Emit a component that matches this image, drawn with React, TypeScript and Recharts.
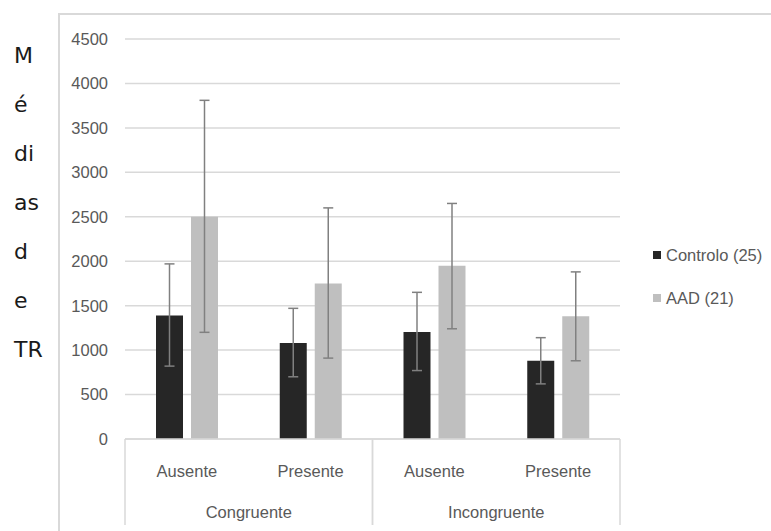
import React from 'react';
import {
  BarChart,
  Bar,
  XAxis,
  YAxis,
  CartesianGrid,
  Legend,
  ErrorBar,
} from 'recharts';

// conditions (first axis level) and task groups (second level)
const categories = ['Ausente', 'Presente', 'Ausente', 'Presente'];
const groups = ['Congruente', 'Congruente', 'Incongruente', 'Incongruente'];

// mean RT per condition
const controlo = [1390, 1080, 1205, 880];
const aad = [2500, 1750, 1950, 1380];

// error bar bounds (low / high)
const controloLow = [820, 700, 770, 620];
const controloHigh = [1970, 1470, 1650, 1140];
const aadLow = [1200, 910, 1240, 880];
const aadHigh = [3810, 2600, 2650, 1880];

const yTicks = [0, 500, 1000, 1500, 2000, 2500, 3000, 3500, 4000, 4500];
const yLabelParts = ['M', 'é', 'di', 'as', 'd', 'e', 'TR'];

const seriesNames = ['Controlo (25)', 'AAD (21)'];
const colors = ['#262626', '#bfbfbf'];

const data = categories.map((cond, i) => ({
  cond,
  group: groups[i],
  controlo: controlo[i],
  aad: aad[i],
  controloErr: [controlo[i] - controloLow[i], controloHigh[i] - controlo[i]],
  aadErr: [aad[i] - aadLow[i], aadHigh[i] - aad[i]],
}));

const FONT = '"Liberation Sans", Arial, sans-serif';
const TEXT = '#595959';
const LINE = '#d9d9d9';
const CAT_MARGIN = 26;
const BOX_DEPTH = 86;

const CategoryTick = (props: any) => {
  const { x, y, payload, index, width, visibleTicksCount } = props;
  const bw = width / visibleTicksCount;
  const top = y - CAT_MARGIN;
  const g = groups[index];
  const lines: number[] = [];
  if (index === 0 || groups[index - 1] !== g) lines.push(x - bw / 2);
  if (index === groups.length - 1 || groups[index + 1] !== g) lines.push(x + bw / 2);
  return (
    <g>
      {lines.map((lx) => (
        <line key={lx} x1={lx} x2={lx} y1={top} y2={top + BOX_DEPTH} stroke={LINE} strokeWidth={1.5} />
      ))}
      <text x={x} y={y} dy="0.71em" textAnchor="middle" fill={TEXT} fontSize={16.5} fontFamily={FONT}>
        {payload.value}
      </text>
    </g>
  );
};

const GroupTick = (props: any) => {
  const { x, y, payload } = props;
  return (
    <text x={x} y={y} dy="0.71em" textAnchor="middle" fill={TEXT} fontSize={16.5} fontFamily={FONT}>
      {payload.value}
    </text>
  );
};

const YLabel = (props: any) => {
  const { viewBox } = props;
  return (
    <text x={viewBox.x} y={63} fill="#1a1a1a" fontSize={22} fontFamily='"DejaVu Sans", sans-serif'>
      {yLabelParts.map((p, i) => (
        <tspan key={i} x={viewBox.x} dy={i === 0 ? 0 : 49}>
          {p}
        </tspan>
      ))}
    </text>
  );
};

const renderLegend = () => (
  <div style={{ fontFamily: FONT, fontSize: 16.5, color: TEXT }}>
    {seriesNames.map((name, i) => (
      <div key={name} style={{ display: 'flex', alignItems: 'center', height: 20, marginBottom: 23 }}>
        <span style={{ width: 8, height: 8, background: colors[i], marginRight: 5, display: 'inline-block' }} />
        <span style={{ whiteSpace: 'nowrap' }}>{name}</span>
      </div>
    ))}
  </div>
);

export default function App() {
  return (
    <div style={{ position: 'absolute', left: 0, top: 0, width: 771, height: 531, overflow: 'hidden', background: '#fff' }}>
      <div
        style={{
          position: 'absolute',
          left: 58,
          top: 13,
          width: 760,
          height: 560,
          border: `2px solid ${LINE}`,
        }}
      />
      <BarChart
        width={771}
        height={531}
        data={data}
        margin={{ top: 39, right: 151, left: 14, bottom: 6 }}
        barSize={27}
        barGap={8}
      >
        <CartesianGrid vertical={false} stroke={LINE} strokeWidth={1.5} />
        <XAxis
          dataKey="cond"
          height={45}
          tickSize={0}
          tickMargin={CAT_MARGIN}
          axisLine={{ stroke: LINE, strokeWidth: 1.5 }}
          tickLine={false}
          tick={<CategoryTick />}
          interval={0}
        />
        <XAxis
          xAxisId="group"
          dataKey="group"
          allowDuplicatedCategory={false}
          height={41}
          tickSize={0}
          tickMargin={22}
          axisLine={false}
          tickLine={false}
          tick={<GroupTick />}
          interval={0}
        />
        <YAxis
          width={111}
          domain={[0, 4500]}
          ticks={yTicks}
          interval={0}
          tickSize={0}
          tickMargin={17}
          axisLine={false}
          tickLine={false}
          tick={{ fill: TEXT, fontSize: 16.5, fontFamily: FONT }}
          label={<YLabel />}
        />
        <Legend
          layout="vertical"
          align="center"
          verticalAlign="middle"
          content={renderLegend}
          wrapperStyle={{ left: 653, top: 245, width: 118 }}
        />
        <Bar dataKey="controlo" name={seriesNames[0]} fill={colors[0]} isAnimationActive={false}>
          <ErrorBar dataKey="controloErr" direction="y" width={5} stroke="#808080" strokeWidth={1.5} />
        </Bar>
        <Bar dataKey="aad" name={seriesNames[1]} fill={colors[1]} isAnimationActive={false}>
          <ErrorBar dataKey="aadErr" direction="y" width={5} stroke="#808080" strokeWidth={1.5} />
        </Bar>
      </BarChart>
    </div>
  );
}
